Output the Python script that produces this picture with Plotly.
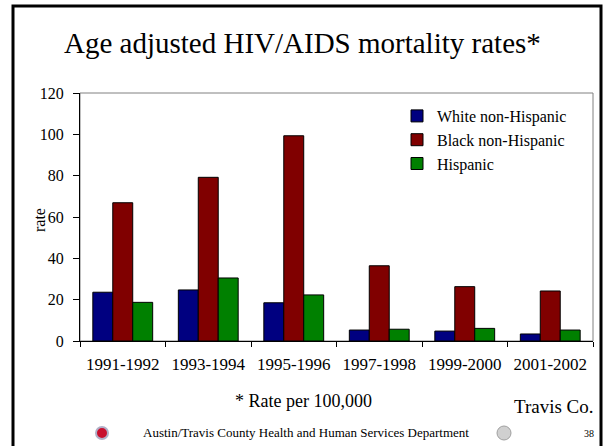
import plotly.graph_objects as go

periods = ['1991-1992', '1993-1994', '1995-1996', '1997-1998', '1999-2000', '2001-2002']
white = [23.6, 24.7, 18.5, 5.3, 4.8, 3.4]
black = [66.9, 79.2, 99.3, 36.4, 26.3, 24.2]
hispanic = [18.7, 30.5, 22.3, 5.7, 6.1, 5.3]

W, H = 604, 446
L, R, T, B = 80, 593, 93, 341  # plot area in pixels


def px(x):
    return (x - L) / (R - L)


def py(y):
    return (B - y) / (B - T)


font = 'Liberation Serif, Times New Roman, serif'

fig = go.Figure()
for name, vals, col in [('White non-Hispanic', white, '#000080'),
                        ('Black non-Hispanic', black, '#800000'),
                        ('Hispanic', hispanic, '#008000')]:
    fig.add_trace(go.Bar(x=periods, y=vals, name=name,
                         marker=dict(color=col, line=dict(color='black', width=1))))


def note(text, x, y, size, anchor='center', angle=0):
    return dict(text=text, xref='paper', yref='paper', x=px(x), y=py(y),
                xanchor=anchor, yanchor='middle', showarrow=False,
                textangle=angle, font=dict(size=size))


fig.update_layout(
    width=W, height=H,
    margin=dict(l=L, r=W - R, t=T, b=H - B),
    paper_bgcolor='white', plot_bgcolor='white',
    font=dict(family=font, size=16, color='black'),
    barmode='group', bargap=0.3, bargroupgap=0,
    showlegend=True,
    legend=dict(x=px(397), y=py(99), xanchor='left', yanchor='top',
                bgcolor='rgba(0,0,0,0)', font=dict(size=16),
                tracegroupgap=0, itemwidth=30),
    xaxis=dict(type='category', tickson='boundaries', ticks='outside', ticklen=5,
               tickcolor='black', showline=True, linecolor='black', linewidth=1,
               showgrid=False, tickfont=dict(size=17), ticklabelstandoff=8),
    yaxis=dict(range=[0, 120], dtick=20, ticks='outside', ticklen=6, tickcolor='black',
               showline=True, linecolor='black', linewidth=1, showgrid=False,
               zeroline=False, tickfont=dict(size=16), ticklabelstandoff=6),
    shapes=[
        dict(type='rect', xref='paper', yref='paper', x0=0, x1=1, y0=0, y1=1,
             line=dict(color='#808080', width=1), layer='below'),
        dict(type='rect', xref='paper', yref='paper', x0=px(13), x1=px(601),
             y0=py(470), y1=py(6), line=dict(color='black', width=3)),
        dict(type='circle', xref='paper', yref='paper', x0=px(96), x1=px(108),
             y0=py(439), y1=py(427), fillcolor='#c8102e',
             line=dict(color='#b0b0c8', width=2)),
        dict(type='circle', xref='paper', yref='paper', x0=px(497), x1=px(511),
             y0=py(440), y1=py(426), fillcolor='#d0d0d0',
             line=dict(color='#a0a0a0', width=1)),
    ],
    annotations=[
        note('Age adjusted HIV/AIDS mortality rates*', 302, 43, 29),
        note('rate', 39, 220, 16, angle=-90),
        note('* Rate per 100,000', 303, 401, 18),
        note('Travis Co.', 596, 406, 19, anchor='right'),
        note('Austin/Travis County Health and Human Services Department', 306, 432, 13),
        note('38', 596, 433, 10, anchor='right'),
    ],
)

fig.write_html('out.html', config={'displayModeBar': False},
               post_script="document.body.style.margin='0';")
